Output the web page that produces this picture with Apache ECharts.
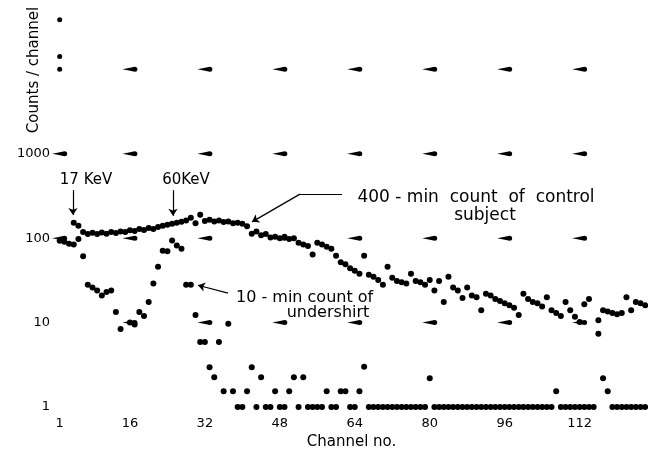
<!DOCTYPE html>
<html>
<head>
<meta charset="utf-8">
<script src="https://cdn.jsdelivr.net/npm/echarts@6/dist/echarts.min.js"></script>
<style>
  html, body { margin: 0; padding: 0; background: #fff; }
  #chart { width: 648px; height: 455px; }
</style>
</head>
<body>
<div id="chart"></div>
<script>
const xTicks = [1, 16, 32, 48, 64, 80, 96, 112];
const yTicks = [1, 10, 100, 1000];

// 400-min count of control subject, first value is channel 4
const controlStart = 4;
const controlCounts = [
  152, 140, 118, 112, 116, 112, 117, 113, 118, 115,
  120, 118, 124, 122, 128, 125, 132, 128, 136, 140,
  144, 148, 152, 156, 162, 174, 150, 190, 160, 165,
  158, 162, 155, 158, 150, 152, 148, 138, 113, 120,
  108, 112, 102, 104, 100, 104, 98, 100, 88, 84,
  81, 64, 88, 84, 79, 75, 62, 52, 49, 44,
  41, 38, 62, 37, 35, 32, 28, 46, 34, 31,
  30, 29, 38, 31, 30, 28, 32, 24, 31, 17.5,
  35, 26, 24, 19.5, 26, 21, 20, 14, 22, 21,
  19, 18, 17, 16, 15, 12.3, 22, 19, 17.5, 17,
  15.5, 20, 14, 13, 12, 17.5, 14, 11.7, 10.2, 16.5,
  19, null, 10.7, 14, 13.5, 13, 12.6, 13, 20, 14,
  17.5, 17, 16
];

// 10-min count of undershirt, first value is channel 1 (empty channels sit on the bottom row)
const shirtStart = 1;
const shirtCounts = [
  93, 91, 86, 84, 98, 61, 28, 26, 24, 21,
  23, 24, 13.4, 8.4, null, 10, 9.5, 13.4, 12, 17.5,
  29, 46, 71, 70, 94, 82, 75, 28, 28, 12.3,
  5.9, 5.9, 2.95, 2.25, 5.9, 1.54, 9.7, 1.54, 1, 1,
  1.54, 2.95, 1, 2.25, 1, 1, 1.54, 1, 1, 1.54,
  2.25, 1, 2.25, 1, 1, 1, 1, 1.54, 1, 1,
  1.54, 1.54, 1, 1, 1.54, 3.0, 1, 1, 1, 1,
  1, 1, 1, 1, 1, 1, 1, 1, 1, 2.2,
  1, 1, 1, 1, 1, 1, 1, 1, 1, 1,
  1, 1, 1, 1, 1, 1, 1, 1, 1, 1,
  1, 1, 1, 1, 1, 1, 1.54, 1, 1, 1,
  1, 1, 1, 1, 1, 7.4, 2.2, 1.54, 1, 1,
  1, 1, 1, 1, 1, 1
];

// graph-paper marks
const paperCols = [16, 32, 48, 64, 80, 96, 112];
const paperRows = [10, 100, 1000, 10000];
const paperExtra = [[1, 100], [1, 1000]];
const paperDots = [[1, 10000], [1, 14200], [1, 38600]];

const ink = "#000";
const font = "DejaVu Sans";

function toPoints(start, values) {
  const pts = [];
  values.forEach((v, i) => {
    if (v != null) pts.push([start + i, v]);
  });
  return pts;
}

const paperMarks = [];
paperRows.forEach((r) => paperCols.forEach((c) => paperMarks.push([c, r])));
paperExtra.forEach((p) => paperMarks.push(p));

const teardrop =
  "path://M0,3 Q6,1.6 11,0.6 A2.4,2.4 0 1 1 11,5.4 Q6,4.4 0,3 Z";

const chart = echarts.init(document.getElementById("chart"), null, {
  renderer: "canvas",
});

const option = {
  animation: false,
  backgroundColor: "#fff",
  grid: { left: 55, right: 0, top: 0, bottom: 38 },
  xAxis: {
    type: "value",
    min: 0,
    max: 126.6,
    name: "Channel no.",
    nameLocation: "middle",
    nameGap: 22,
    nameTextStyle: { color: ink, fontSize: 15, fontFamily: font },
    axisLine: { show: false },
    axisTick: { show: false },
    splitLine: { show: false },
    axisLabel: {
      customValues: xTicks,
      margin: 4,
      color: ink,
      fontSize: 13,
      fontFamily: font,
    },
  },
  yAxis: {
    type: "log",
    min: 0.85,
    max: 66200,
    axisLine: { show: false },
    axisTick: { show: false },
    splitLine: { show: false },
    axisLabel: {
      margin: 5,
      color: ink,
      fontSize: 13,
      fontFamily: font,
      showMinLabel: false,
      showMaxLabel: false,
      formatter: (v) =>
        yTicks.some((t) => Math.abs(v - t) < t * 1e-6) ? String(Math.round(v)) : "",
    },
  },
  graphic: [
    {
      type: "text", x: 34, y: 70, rotation: Math.PI / 2,
      style: { text: "Counts / channel", fill: ink, font: "15px " + font, align: "center", verticalAlign: "middle" },
    },
    {
      type: "text", x: 86, y: 180,
      style: { text: "17 KeV", fill: ink, font: "15px " + font, align: "center", verticalAlign: "middle" },
    },
    {
      type: "text", x: 186, y: 180,
      style: { text: "60KeV", fill: ink, font: "15px " + font, align: "center", verticalAlign: "middle" },
    },
    {
      type: "text", x: 476, y: 198,
      style: { text: "400 - min  count  of  control", fill: ink, font: "17px " + font, align: "center", verticalAlign: "middle" },
    },
    {
      type: "text", x: 485, y: 216,
      style: { text: "subject", fill: ink, font: "17px " + font, align: "center", verticalAlign: "middle" },
    },
    {
      type: "text", x: 236, y: 298,
      style: { text: "10 - min count of", fill: ink, font: "16px " + font, align: "left", verticalAlign: "middle" },
    },
    {
      type: "text", x: 328, y: 313,
      style: { text: "undershirt", fill: ink, font: "16px " + font, align: "center", verticalAlign: "middle" },
    },
  ],
  series: [
    {
      name: "paper",
      type: "scatter",
      silent: true,
      symbol: teardrop,
      symbolSize: [15, 5],
      itemStyle: { color: ink, opacity: 1 },
      data: paperMarks,
      z: 1,
    },
    {
      name: "paper dots",
      type: "scatter",
      silent: true,
      symbolSize: 5,
      itemStyle: { color: ink, opacity: 1 },
      data: paperDots,
      z: 1,
    },
    {
      name: "400-min count of control subject",
      type: "scatter",
      symbolSize: 6,
      itemStyle: { color: ink, opacity: 1 },
      data: toPoints(controlStart, controlCounts),
      z: 3,
      markLine: {
        silent: true,
        symbol: ["none", "arrow"],
        symbolSize: 7,
        label: { show: false },
        lineStyle: { color: ink, width: 1.2, type: "solid", opacity: 1 },
        data: [
          [{ coord: [3.84, 370.6] }, { coord: [3.84, 188.6] }],
          [{ coord: [25.19, 370.6] }, { coord: [25.19, 184] }],
          [{ coord: [61.27, 332.6], symbol: "none" }, { coord: [52.3, 332.6], symbol: "none" }],
          [{ coord: [52.3, 332.6] }, { coord: [42.06, 156] }],
        ],
      },
    },
    {
      name: "10-min count of undershirt",
      type: "scatter",
      symbolSize: 6,
      itemStyle: { color: ink, opacity: 1 },
      data: toPoints(shirtStart, shirtCounts),
      z: 3,
      markLine: {
        silent: true,
        symbol: ["none", "arrow"],
        symbolSize: 7,
        label: { show: false },
        lineStyle: { color: ink, width: 1.2, type: "solid", opacity: 1 },
        data: [[{ coord: [36.93, 22.3] }, { coord: [30.53, 27.7] }]],
      },
    },
  ],
};

chart.setOption(option);
</script>
</body>
</html>
